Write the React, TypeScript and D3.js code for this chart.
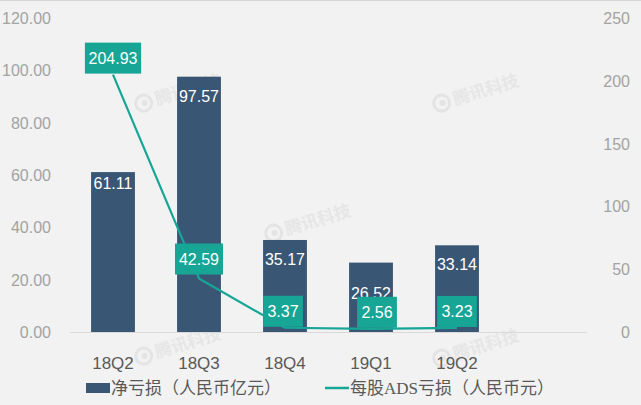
import React from "react";
import * as d3 from "d3";

const categories = ["18Q2", "18Q3", "18Q4", "19Q1", "19Q2"];
const netLoss = [61.11, 97.57, 35.17, 26.52, 33.14];
const adsLoss = [204.93, 42.59, 3.37, 2.56, 3.23];
const leftTicks = [0, 20, 40, 60, 80, 100, 120];
const rightTicks = [0, 50, 100, 150, 200, 250];
const legendBar = "净亏损（人民币亿元）";
const legendLinePre = "每股";
const legendLineMid = "ADS";
const legendLinePost = "亏损（人民币元）";

const W = 641;
const H = 405;
const BAR = "#3a5675";
const TEAL = "#17a596";
const SANS = "'Liberation Sans', Arial, sans-serif";
const CJK = "'Noto Sans CJK SC', 'Liberation Sans', sans-serif";

export default function App() {
  const x = d3
    .scaleBand<string>()
    .domain([...categories, ""])
    .range([70, 586])
    .paddingInner(0.49)
    .paddingOuter(0.245);
  const yL = d3.scaleLinear().domain([0, 120]).range([332, 18]);
  const yR = d3.scaleLinear().domain([0, 250]).range([332, 18]);
  const cx = (c: string) => (x(c) as number) + x.bandwidth() / 2;

  const pts: [number, number][] = categories.map((c, i) => [cx(c), yR(adsLoss[i])]);
  const line = d3.line().curve(d3.curveLinear)(pts) as string;

  const watermarks: [number, number][] = [
    [180, 92],
    [478, 92],
    [310, 222],
    [180, 345],
    [478, 347],
  ];

  return (
    <svg
      width={W}
      height={H}
      style={{ position: "absolute", left: 0, top: 0, display: "block" }}
    >
      <rect x={0} y={0} width={W} height={H} fill="#f2f2f2" />
      <line x1={0} x2={W} y1={0.5} y2={0.5} stroke="#d6d6d6" />

      {watermarks.map(([wx, wy], i) => (
        <g key={i} transform={`translate(${wx},${wy}) rotate(-17)`}>
          <circle cx={-38} cy={0} r={8} fill="none" stroke="#e4e4e4" strokeWidth={3} />
          <circle cx={-37} cy={0} r={3} fill="#e4e4e4" />
          <text
            x={-26}
            y={6}
            fontFamily={CJK}
            fontSize={17}
            fontWeight={700}
            fill="#e6e6e6"
          >
            腾讯科技
          </text>
        </g>
      ))}

      {leftTicks.map((t) => (
        <text
          key={"l" + t}
          x={51}
          y={yL(t) + 6}
          textAnchor="end"
          fontFamily={SANS}
          fontSize={16}
          fill="#a3a3a3"
        >
          {t.toFixed(2)}
        </text>
      ))}
      {rightTicks.map((t) => (
        <text
          key={"r" + t}
          x={630}
          y={yR(t) + 6}
          textAnchor="end"
          fontFamily={SANS}
          fontSize={16}
          fill="#a3a3a3"
        >
          {t}
        </text>
      ))}

      <line x1={70} x2={587} y1={yL(0) + 0.5} y2={yL(0) + 0.5} stroke="#d9d9d9" />

      {categories.map((c, i) => (
        <g key={c}>
          <rect
            x={x(c)}
            y={yL(netLoss[i])}
            width={x.bandwidth()}
            height={yL(0) - yL(netLoss[i])}
            fill={BAR}
          />
          <text
            x={cx(c)}
            y={yL(netLoss[i]) + (i === 0 ? 17 : i === 3 ? 36 : 25)}
            textAnchor="middle"
            fontFamily={SANS}
            fontSize={16}
            fill="#ffffff"
          >
            {netLoss[i].toFixed(2)}
          </text>
          <text
            x={cx(c)}
            y={369}
            textAnchor="middle"
            fontFamily={SANS}
            fontSize={17}
            fill="#595959"
          >
            {c}
          </text>
        </g>
      ))}

      <path d={line} fill="none" stroke={TEAL} strokeWidth={2.2} strokeLinejoin="round" />

      {categories.map((c, i) => {
        const label = adsLoss[i].toFixed(2);
        const tw = label.length * 8.2;
        const bw = tw + 7;
        const px = pts[i][0] + (i === 3 ? 6 : i === 2 ? -2 : 0);
        const bottom = pts[i][1] - (i === 1 ? 4 : 1);
        return (
          <g key={"lab" + c}>
            <rect x={px - bw / 2} y={bottom - 31} width={bw} height={31} fill={TEAL} />
            <text
              x={px}
              y={bottom - 10}
              textAnchor="middle"
              fontFamily={SANS}
              fontSize={16}
              fill="#ffffff"
            >
              {label}
            </text>
          </g>
        );
      })}

      <rect x={86} y={383} width={24} height={10} fill={BAR} />
      <text x={111} y={394} fontFamily={CJK} fontSize={17} fill="#595959">
        {legendBar}
      </text>
      <line x1={325} x2={349} y1={388} y2={388} stroke={TEAL} strokeWidth={2.5} />
      <text x={350} y={394} fontFamily={CJK} fontSize={17} fill="#595959">
        {legendLinePre}
        <tspan fontFamily="'Liberation Serif', 'DejaVu Serif', serif">{legendLineMid}</tspan>
        {legendLinePost}
      </text>
    </svg>
  );
}
